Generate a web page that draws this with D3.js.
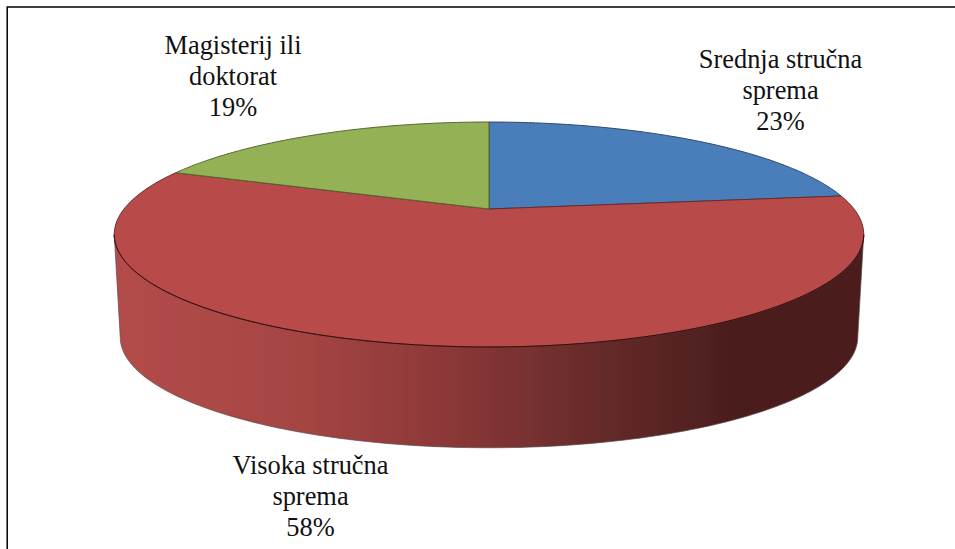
<!DOCTYPE html>
<html><head><meta charset="utf-8">
<script src="https://cdn.jsdelivr.net/npm/d3@7"></script>
<style>html,body{margin:0;padding:0;background:#fff}svg{display:block}</style>
</head><body><svg width="955" height="549"></svg>
<script>
const categories = ["Srednja stručna sprema", "Visoka stručna sprema", "Magisterij ili doktorat"];
const labelLines = [["Srednja stručna","sprema","23%"],["Visoka stručna","sprema","58%"],["Magisterij ili","doktorat","19%"]];
const values = [23, 58, 19];
const colors = ["#4a7ebb", "#b84c4a", "#94b155"];
const wallStops = [[0,"#b34c4a"],[0.25,"#a54543"],[0.45,"#8b3737"],[0.65,"#652a2a"],[0.82,"#4c1e1e"],[1,"#4c1e1e"]];
const labelCenters = [[780.5,68],[310.5,474],[233,54]];

const svg = d3.select("svg");
const persp = 0.2267;
const sx = d3.scaleLinear().domain([-1,1]).range([124,854]);
const sy = d3.scaleLinear().domain([-1,1]).range([315.7,102.3]);
const project = (a, scale=1, dy=0) => {
  const u = Math.sin(a), v = Math.cos(a), w = 1 + persp*v;
  const cx = sx(0), cy = sy(0);
  return [cx + (sx(u/w)-cx)*scale, cy + (sy(v/w)-cy)*scale + dy];
};
const line = d3.line();
const arcPts = (a0,a1,scale,dy) => d3.range(0,121).map(i=>project(a0+(a1-a0)*i/120,scale,dy));

const arcs = d3.pie().sort(null).value(d=>d)(values);

const defs = svg.append("defs");
const grad = defs.append("linearGradient").attr("id","wall").attr("gradientUnits","userSpaceOnUse")
  .attr("x1",114).attr("x2",864).attr("y1",0).attr("y2",0);
grad.selectAll("stop").data(wallStops).join("stop")
  .attr("offset",d=>d[0]).attr("stop-color",d=>d[1]);
defs.append("filter").attr("id","soft").append("feGaussianBlur").attr("stdDeviation",0.45);

// frame
svg.append("path").attr("d",line([[955,7],[7.2,7],[7.2,549]])).attr("fill","none").attr("stroke","#000").attr("stroke-width",1.5);

const aR = Math.PI/2 + Math.asin(persp), aL = 2*Math.PI - aR;
const g = svg.append("g").attr("filter","url(#soft)");
const wallDepth = 103, wallScale = 0.984;
g.append("path")
  .attr("d", line(arcPts(aR,aL,1,0).concat(arcPts(aL,aR,wallScale,wallDepth)))+"Z")
  .attr("fill","url(#wall)").attr("stroke","#5a4a4a").attr("stroke-width",0.7);

g.selectAll("path.slice").data(arcs).join("path").attr("class","slice")
  .attr("d", d => line([project(0,0,0)].concat(arcPts(d.startAngle,d.endAngle,1,0)))+"Z")
  .attr("fill",(d,i)=>colors[i]).attr("stroke",(d,i)=>d3.color(colors[i]).darker(1.6)).attr("stroke-width",1);

// dark front rim of the top face
g.append("path").attr("d", line(arcPts(aR,aL,1,0)))
  .attr("fill","none").attr("stroke","#3a0f0f").attr("stroke-width",1);

const lab = svg.selectAll("text").data(labelLines).join("text")
  .attr("font-family","'Liberation Serif'").attr("font-size",26.4).attr("fill","#111").attr("text-anchor","middle");
lab.selectAll("tspan").data((d,i)=>d.map(t=>({t,i}))).join("tspan")
  .attr("x",d=>labelCenters[d.i][0])
  .attr("y",(d,j)=>labelCenters[d.i][1]+j*31)
  .text(d=>d.t);
</script></body></html>
